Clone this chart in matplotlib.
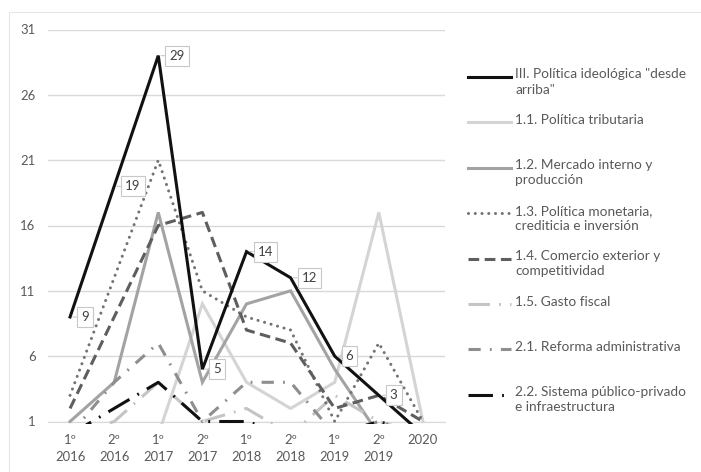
import matplotlib
matplotlib.use("Agg")
import matplotlib.pyplot as plt
from matplotlib.patches import Rectangle

plt.rcParams['font.family'] = ['Lato', 'DejaVu Sans']

# categorias (semestres)
categories = ['1º\n2016', '2º\n2016', '1º\n2017', '2º\n2017', '1º\n2018',
              '2º\n2018', '1º\n2019', '2º\n2019', '2020']

# series
politica_ideologica = [9, 19, 29, 5, 14, 12, 6, 3, 0]
politica_tributaria = [0, 0, 0, 10, 4, 2, 4, 17, 1]
mercado_interno = [1, 4, 17, 4, 10, 11, 5, 0, 0]
politica_monetaria = [3, 12, 21, 11, 9, 8, 1, 7, 1]
comercio_exterior = [2, 9, 16, 17, 8, 7, 2, 3, 1]
gasto_fiscal = [0, 1, 4, 1, 2, 0, 3, 1, 0]
reforma_administrativa = [0, 4, 7, 1, 4, 4, 0, 1, 0]
sistema_publico_privado = [0, 2, 4, 1, 1, 0, 0, 1, 0]

labels = ['III. Política ideológica "desde\narriba"',
          '1.1. Política tributaria',
          '1.2. Mercado interno y\nproducción',
          '1.3. Política monetaria,\ncrediticia e inversión',
          '1.4. Comercio exterior y\ncompetitividad',
          '1.5. Gasto fiscal',
          '2.1. Reforma administrativa',
          '2.2. Sistema público-privado\ne infraestructura']

series = [politica_ideologica, politica_tributaria, mercado_interno,
          politica_monetaria, comercio_exterior, gasto_fiscal,
          reforma_administrativa, sistema_publico_privado]

# estilos (color, linestyle, capstyle)
styles = [
    ('#111111', '-', 'butt'),
    ('#d4d4d4', '-', 'butt'),
    ('#a3a3a3', '-', 'butt'),
    ('#737373', (0, (0.01, 2.2)), 'round'),
    ('#5e5e5e', (0, (3.5, 1.8)), 'butt'),
    ('#c4c4c4', (0, (7, 3, 0.6, 3)), 'butt'),
    ('#8e8e8e', (0, (4, 3, 0.6, 3)), 'butt'),
    ('#111111', (0, (8, 3, 0.6, 3)), 'butt'),
]
lw = 2.2
txt_color = '#595959'

fig = plt.figure(figsize=(7.01, 4.72), dpi=100)
ax = fig.add_axes([48/701, 1 - 421.5/472, 397/701, 392/472])

x = list(range(len(categories)))
clip = Rectangle((0, -0.006), 1, 1.012, transform=ax.transAxes)
# dibujar de atras hacia adelante
for i in [1, 2, 5, 6, 3, 4, 7, 0]:
    col, ls, cap = styles[i]
    ln, = ax.plot(x, series[i], color=col, linestyle=ls, lw=lw,
                  dash_capstyle=cap, solid_joinstyle='miter', zorder=3 + (i == 0))
    ln.set_clip_path(clip)

ax.set_ylim(1, 31)
ax.set_xlim(-0.5, len(categories) - 0.5)
ax.set_yticks(range(1, 32, 5))
ax.set_xticks(x)
ax.set_xticklabels(categories, linespacing=1.5)
ax.tick_params(length=0, labelsize=9.4, labelcolor=txt_color)
ax.tick_params(axis='y', pad=9)
ax.tick_params(axis='x', pad=9)
ax.grid(axis='y', color='#d9d9d9', lw=1)
ax.set_axisbelow(True)
for s in ['top', 'right', 'left']:
    ax.spines[s].set_visible(False)
ax.spines['bottom'].set_color('#d9d9d9')

# etiquetas de datos de la serie III
for xi, v in zip(x, politica_ideologica):
    if v < 1:
        continue
    ax.annotate(str(v), xy=(xi, v), xytext=(11, 0), textcoords='offset pixels',
                ha='left', va='center', fontsize=9.5, color='#404040', zorder=6,
                bbox=dict(boxstyle='square,pad=0.3', fc='white', ec='#c8c8c8', lw=0.8),
                arrowprops=dict(arrowstyle='-', color='#c8c8c8', lw=0.8,
                                shrinkA=0, shrinkB=2))

# leyenda dibujada a mano (estilo Excel)
lg = fig.add_axes([0, 0, 1, 1], zorder=-1)
lg.set_xlim(0, 701)
lg.set_ylim(472, 0)
lg.axis('off')
lg.plot([9, 9, 701], [472, 12, 12], color='#e6e6e6', lw=0.8)
for i, lab in enumerate(labels):
    y0 = 77 + 45.4 * i
    col, ls, cap = styles[i]
    lg.plot([468, 511], [y0, y0], color=col, linestyle=ls, lw=lw,
            dash_capstyle=cap)
    lg.text(515, y0 - 8.5, lab, ha='left', va='top', fontsize=9.8,
            color=txt_color, linespacing=1.3)

fig.savefig('out.png', dpi=100)
